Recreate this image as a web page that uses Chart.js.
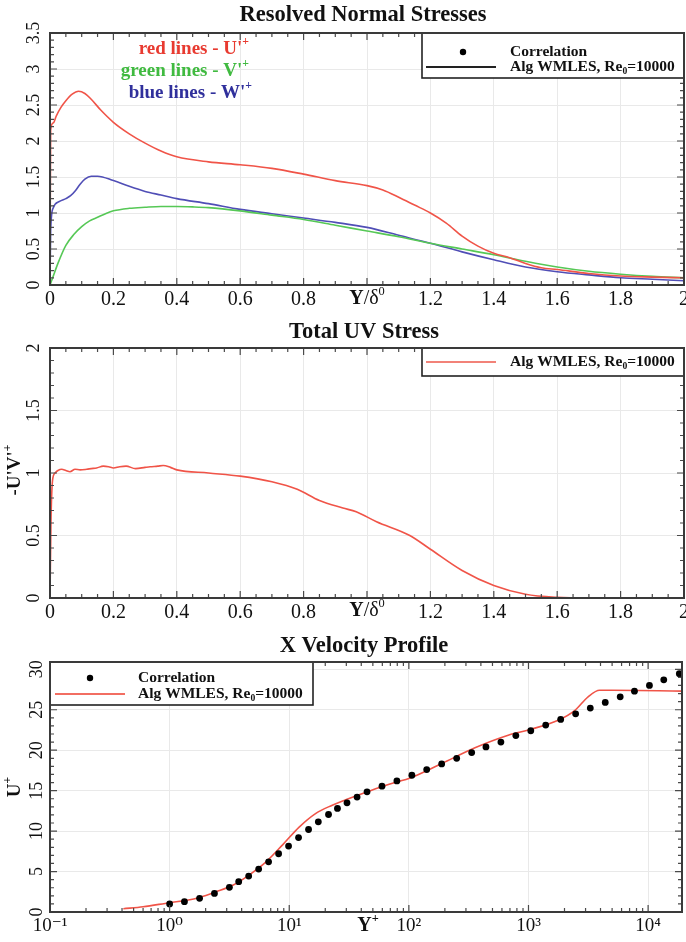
<!DOCTYPE html>
<html>
<head>
<meta charset="utf-8">
<script src="https://cdn.jsdelivr.net/npm/chart.js@4.4.1/dist/chart.umd.min.js"></script>
<style>
  body { margin: 0; background: #fff; }
  .wrap { position: relative; width: 686px; height: 942px; overflow: hidden; }
  canvas { position: absolute; left: 0; }
</style>
</head>
<body>
<div class="wrap">
  <canvas id="normal" width="686" height="310" style="top:0"></canvas>
  <canvas id="shear" width="686" height="315" style="top:310px"></canvas>
  <canvas id="velocity" width="686" height="317" style="top:625px"></canvas>
</div>
<script>
// resolved normal stresses against Y/delta0
const uRmsX = [0, 0.002, 0.01, 0.02, 0.035, 0.05, 0.07, 0.09, 0.11, 0.13, 0.16, 0.2, 0.25, 0.3, 0.35, 0.4, 0.5, 0.6, 0.7, 0.8, 0.9, 1.0, 1.05, 1.1, 1.15, 1.2, 1.25, 1.3, 1.35, 1.4, 1.45, 1.5, 1.55, 1.6, 1.7, 1.8, 1.9, 2.0];
const uRms = [0, 2.15, 2.25, 2.35, 2.47, 2.56, 2.65, 2.69, 2.66, 2.58, 2.43, 2.26, 2.1, 1.97, 1.86, 1.78, 1.71, 1.67, 1.62, 1.54, 1.45, 1.38, 1.32, 1.22, 1.11, 1.0, 0.86, 0.68, 0.54, 0.44, 0.38, 0.3, 0.24, 0.215, 0.16, 0.125, 0.11, 0.1];
const vRmsX = [0, 0.01, 0.025, 0.05, 0.075, 0.1, 0.125, 0.15, 0.175, 0.2, 0.25, 0.3, 0.35, 0.4, 0.45, 0.5, 0.6, 0.7, 0.8, 0.9, 1.0, 1.1, 1.2, 1.3, 1.4, 1.5, 1.6, 1.7, 1.8, 1.9, 2.0];
const vRms = [0, 0.12, 0.3, 0.55, 0.7, 0.81, 0.89, 0.94, 0.99, 1.03, 1.065, 1.08, 1.09, 1.09, 1.085, 1.075, 1.03, 0.97, 0.91, 0.83, 0.75, 0.67, 0.58, 0.5, 0.42, 0.33, 0.25, 0.19, 0.15, 0.12, 0.1];
const wRmsX = [0, 0.002, 0.01, 0.03, 0.05, 0.065, 0.08, 0.095, 0.11, 0.13, 0.15, 0.2, 0.25, 0.3, 0.35, 0.4, 0.5, 0.6, 0.7, 0.8, 0.9, 1.0, 1.1, 1.2, 1.3, 1.4, 1.5, 1.6, 1.7, 1.8, 1.9, 2.0];
const wRms = [0, 0.75, 1.07, 1.16, 1.2, 1.24, 1.31, 1.4, 1.47, 1.51, 1.51, 1.45, 1.37, 1.3, 1.25, 1.2, 1.13, 1.05, 0.99, 0.93, 0.87, 0.8, 0.69, 0.58, 0.46, 0.35, 0.25, 0.185, 0.14, 0.1, 0.08, 0.06];

// total uv stress
const uvX = [0, 0.003, 0.008, 0.016, 0.025, 0.037, 0.05, 0.063, 0.079, 0.095, 0.116, 0.13, 0.147, 0.168, 0.185, 0.2, 0.22, 0.24, 0.27, 0.3, 0.316, 0.34, 0.357, 0.38, 0.4, 0.5, 0.6, 0.7, 0.78, 0.85, 0.924, 0.966, 1.03, 1.135, 1.2, 1.3, 1.4, 1.5, 1.6, 1.7, 1.8];
const uvStress = [0, 0.6, 0.94, 1.0, 1.02, 1.03, 1.02, 1.01, 1.03, 1.025, 1.03, 1.035, 1.04, 1.055, 1.05, 1.04, 1.05, 1.055, 1.035, 1.045, 1.05, 1.055, 1.06, 1.045, 1.025, 1.0, 0.975, 0.93, 0.87, 0.78, 0.72, 0.69, 0.61, 0.5, 0.39, 0.22, 0.1, 0.03, 0.005, 0, 0];

// x velocity profile in wall units
const lesYPlus = [0.41, 0.6, 1, 1.4, 1.78, 2.45, 3.37, 4.64, 6.4, 8.8, 12.1, 16.7, 22.9, 27.6, 30, 45, 60, 80, 100, 188, 357, 677, 1000, 1770, 2430, 3150, 3930, 5000, 19200];
const lesUPlus = [0.4, 0.65, 1.15, 1.45, 1.8, 2.5, 3.3, 4.6, 6.2, 8.3, 10.5, 12.2, 13.2, 13.7, 13.9, 14.85, 15.5, 16.1, 16.5, 18.35, 20.3, 21.85, 22.5, 23.7, 24.9, 26.6, 27.4, 27.4, 27.3];
const corrYPlus = [1.0, 1.33, 1.78, 2.37, 3.16, 3.78, 4.58, 5.55, 6.72, 8.15, 9.87, 11.96, 14.5, 17.5, 21.3, 25.3, 30.4, 36.9, 44.7, 59.6, 79.4, 106, 141, 188, 251, 335, 441, 588, 784, 1045, 1393, 1858, 2478, 3286, 4382, 5843, 7690, 10260, 13520, 18240];
const corrUPlus = [1.0, 1.27, 1.69, 2.3, 3.05, 3.75, 4.44, 5.3, 6.2, 7.2, 8.15, 9.2, 10.2, 11.15, 12.05, 12.8, 13.5, 14.2, 14.85, 15.55, 16.2, 16.9, 17.6, 18.3, 19.0, 19.7, 20.4, 21.0, 21.8, 22.4, 23.1, 23.8, 24.5, 25.2, 25.9, 26.6, 27.3, 28.0, 28.7, 29.45];
const decadeLabels = ['10⁻¹', '10⁰', '10¹', '10²', '10³', '10⁴'];

const SERIF = '"Liberation Serif", "DejaVu Serif", serif';
const RED = 'rgb(240, 84, 72)';
const GREEN = 'rgb(86, 200, 86)';
const BLUE = 'rgb(80, 78, 182)';
const GRID = '#e9e9e9';

const pts = (xs, ys) => xs.map((x, i) => ({x, y: ys[i]}));
const steps = (from, to, step) => {
    const out = [];
    for (let v = from; v <= to + 1e-9; v += step) out.push(+v.toFixed(4));
    return out;
};
const logMinor = [];
for (let e = -1; e <= 4; e++) for (let k = 1; k < 10; k++) logMinor.push(k * Math.pow(10, e));
const isDecade = v => Math.abs(Math.log10(v) - Math.round(Math.log10(v))) < 1e-6;

// text with optional superscript / subscript pieces: [text, weight, 'sup'|'sub']
function drawRich(ctx, parts, x, y, size, align) {
    const segs = parts.map(([t, w = 'bold', k = '']) => {
        const s = k ? size * 0.62 : size;
        const font = `${w} ${s}px ${SERIF}`;
        ctx.font = font;
        return {t, font, w: ctx.measureText(t).width, dy: k === 'sup' ? -size * 0.36 : k === 'sub' ? size * 0.3 : 0};
    });
    const total = segs.reduce((a, s) => a + s.w, 0);
    let cx = align === 'right' ? x - total : align === 'center' ? x - total / 2 : x;
    ctx.textAlign = 'left';
    ctx.textBaseline = 'middle';
    segs.forEach(s => { ctx.font = s.font; ctx.fillText(s.t, cx, y + s.dy); cx += s.w; });
}

// frame, inward ticks, title, legend box and labels drawn over each panel
function frame(cfg) {
    return {
        id: 'frame',
        afterDraw(chart) {
            const {ctx, chartArea: a} = chart;
            const sx = chart.scales.x, sy = chart.scales.y;
            ctx.save();
            ctx.strokeStyle = '#4a4a4a';
            ctx.lineWidth = 1.2;
            ctx.beginPath();
            const tickX = (vals, len) => vals.forEach(v => {
                const p = sx.getPixelForValue(v);
                if (p < a.left + 1 || p > a.right - 1) return;
                ctx.moveTo(p, a.bottom); ctx.lineTo(p, a.bottom - len);
                ctx.moveTo(p, a.top); ctx.lineTo(p, a.top + len);
            });
            const tickY = (vals, len) => vals.forEach(v => {
                const p = sy.getPixelForValue(v);
                if (p < a.top + 1 || p > a.bottom - 1) return;
                ctx.moveTo(a.left, p); ctx.lineTo(a.left + len, p);
                ctx.moveTo(a.right, p); ctx.lineTo(a.right - len, p);
            });
            tickX(cfg.xMajor, 7); tickX(cfg.xMinor, 4);
            tickY(cfg.yMajor, 7); tickY(cfg.yMinor, 4);
            ctx.stroke();

            ctx.fillStyle = '#111';
            drawRich(ctx, [[cfg.title]], cfg.titleX, cfg.titleY, 22.5, 'center');

            (cfg.notes || []).forEach(n => {
                ctx.fillStyle = n.color || '#111';
                if (n.rotate) {
                    ctx.save();
                    ctx.translate(n.x, n.y);
                    ctx.rotate(-Math.PI / 2);
                    drawRich(ctx, n.parts, 0, 0, n.size, 'center');
                    ctx.restore();
                } else {
                    const x = n.xValue !== undefined ? sx.getPixelForValue(n.xValue) : n.x;
                    drawRich(ctx, n.parts, x, n.y, n.size, n.align || 'left');
                }
            });

            const lg = cfg.legend;
            if (lg) {
                const [l, t, r, b] = lg.box;
                ctx.fillStyle = '#fff';
                ctx.fillRect(l, t, r - l, b - t);
                lg.rows.forEach(row => {
                    if (row.mark === 'dot') {
                        ctx.fillStyle = row.color;
                        ctx.beginPath();
                        ctx.arc(row.at, row.y, 3.2, 0, Math.PI * 2);
                        ctx.fill();
                    } else {
                        ctx.strokeStyle = row.color;
                        ctx.lineWidth = 1.8;
                        ctx.beginPath();
                        ctx.moveTo(row.at[0], row.y); ctx.lineTo(row.at[1], row.y);
                        ctx.stroke();
                    }
                    ctx.fillStyle = '#111';
                    drawRich(ctx, row.parts, lg.textX, row.y, 15.5, 'left');
                });
                ctx.strokeStyle = '#222';
                ctx.lineWidth = 1.6;
                ctx.strokeRect(l, t, r - l, b - t);
            }

            ctx.strokeStyle = '#3a3a3a';
            ctx.lineWidth = 2;
            ctx.strokeRect(a.left, a.top, a.width, a.height);
            ctx.restore();
        }
    };
}

const wmlesLabel = [['Alg WMLES, Re'], ['0', 'bold', 'sub'], ['=10000']];
const yDeltaLabel = [['Y', 'bold'], ['/δ', 'normal'], ['0', 'normal', 'sup']];

function xLinear(height) {
    return {
        type: 'linear', min: 0, max: 2,
        ticks: {
            stepSize: 0.2, autoSkip: false, maxRotation: 0, padding: 3, color: '#111',
            font: {family: SERIF, size: 20},
            callback: v => Math.abs(v - 1) < 1e-9 ? '' : String(+v.toFixed(1))
        },
        grid: {color: GRID, drawTicks: false},
        border: {display: false},
        afterFit: s => { s.height = height; s.paddingLeft = 0; s.paddingRight = 0; }
    };
}

function yLinear(max, step) {
    return {
        type: 'linear', min: 0, max,
        ticks: {
            stepSize: step, includeBounds: false, minRotation: 90, maxRotation: 90,
            crossAlign: 'center', padding: 4, color: '#111',
            font: {family: SERIF, size: 18},
            callback: v => String(+v.toFixed(2))
        },
        grid: {color: GRID, drawTicks: false},
        border: {display: false},
        afterFit: s => { s.width = 50; s.paddingTop = 0; s.paddingBottom = 0; }
    };
}

const common = {
    responsive: false,
    animation: false,
    events: [],
    plugins: {legend: {display: false}, tooltip: {enabled: false}},
    elements: {point: {radius: 0}}
};

new Chart(document.getElementById('normal'), {
    type: 'scatter',
    data: {
        datasets: [
            {label: "U'+", data: pts(uRmsX, uRms), showLine: true, borderColor: RED, borderWidth: 1.6, cubicInterpolationMode: 'monotone'},
            {label: "V'+", data: pts(vRmsX, vRms), showLine: true, borderColor: GREEN, borderWidth: 1.6, cubicInterpolationMode: 'monotone'},
            {label: "W'+", data: pts(wRmsX, wRms), showLine: true, borderColor: BLUE, borderWidth: 1.6, cubicInterpolationMode: 'monotone'}
        ]
    },
    options: Object.assign({}, common, {
        layout: {padding: {top: 33, right: 2, left: 0, bottom: 0}},
        scales: {x: xLinear(25), y: yLinear(3.5, 0.5)}
    }),
    plugins: [frame({
        title: 'Resolved Normal Stresses', titleX: 363, titleY: 15,
        xMajor: steps(0, 2, 0.2), xMinor: steps(0, 2, 0.05),
        yMajor: steps(0, 3.5, 0.5), yMinor: steps(0, 3.5, 0.1),
        notes: [
            {parts: [["red lines - U'"], ['+', 'bold', 'sup']], x: 249, y: 49, size: 19, align: 'right', color: 'rgb(232, 58, 48)'},
            {parts: [["green lines - V'"], ['+', 'bold', 'sup']], x: 249, y: 71, size: 19, align: 'right', color: 'rgb(64, 186, 64)'},
            {parts: [["blue lines - W'"], ['+', 'bold', 'sup']], x: 252, y: 93, size: 19, align: 'right', color: 'rgb(48, 48, 156)'},
            {parts: yDeltaLabel, xValue: 1, y: 299, size: 20, align: 'center'}
        ],
        legend: {
            box: [422, 33, 684, 78], textX: 510,
            rows: [
                {mark: 'dot', color: '#000', at: 463, y: 52, parts: [['Correlation']]},
                {mark: 'line', color: '#222', at: [426, 496], y: 67, parts: wmlesLabel}
            ]
        }
    })]
});

new Chart(document.getElementById('shear'), {
    type: 'scatter',
    data: {
        datasets: [
            {label: 'Alg WMLES, Re0=10000', data: pts(uvX, uvStress), showLine: true, borderColor: RED, borderWidth: 1.6, cubicInterpolationMode: 'monotone'}
        ]
    },
    options: Object.assign({}, common, {
        layout: {padding: {top: 38, right: 2, left: 0, bottom: 0}},
        scales: {x: xLinear(27), y: yLinear(2, 0.5)}
    }),
    plugins: [frame({
        title: 'Total UV Stress', titleX: 364, titleY: 22,
        xMajor: steps(0, 2, 0.2), xMinor: steps(0, 2, 0.05),
        yMajor: steps(0, 2, 0.5), yMinor: steps(0, 2, 0.1),
        notes: [
            {parts: [["-U'V'"], ['+', 'bold', 'sup']], x: 15, y: 160, size: 19, rotate: true},
            {parts: yDeltaLabel, xValue: 1, y: 301, size: 20, align: 'center'}
        ],
        legend: {
            box: [422, 38, 684, 66], textX: 510,
            rows: [
                {mark: 'line', color: 'rgb(242, 130, 120)', at: [426, 496], y: 52, parts: wmlesLabel}
            ]
        }
    })]
});

new Chart(document.getElementById('velocity'), {
    type: 'scatter',
    data: {
        datasets: [
            {label: 'Correlation', data: pts(corrYPlus, corrUPlus), pointRadius: 3.4, pointBackgroundColor: '#000', pointBorderWidth: 0},
            {label: 'Alg WMLES, Re0=10000', data: pts(lesYPlus, lesUPlus), showLine: true, borderColor: RED, borderWidth: 1.6, cubicInterpolationMode: 'monotone'}
        ]
    },
    options: Object.assign({}, common, {
        layout: {padding: {top: 37, right: 2, left: 0, bottom: 0}},
        scales: {
            x: {
                type: 'logarithmic', min: 0.1, max: 19200,
                ticks: {
                    autoSkip: false, maxRotation: 0, padding: 3, color: '#111',
                    font: {family: SERIF, size: 19},
                    callback: v => isDecade(v) ? decadeLabels[Math.round(Math.log10(v)) + 1] : ''
                },
                grid: {color: c => c.tick && isDecade(c.tick.value) ? GRID : 'rgba(0,0,0,0)', drawTicks: false},
                border: {display: false},
                afterFit: s => { s.height = 30; s.paddingLeft = 0; s.paddingRight = 0; }
            },
            y: yLinear(30.9, 5)
        }
    }),
    plugins: [frame({
        title: 'X Velocity Profile', titleX: 364, titleY: 21,
        xMajor: [0.1, 1, 10, 100, 1000, 10000], xMinor: logMinor,
        yMajor: steps(0, 30, 5), yMinor: steps(0, 30, 1),
        notes: [
            {parts: [['U'], ['+', 'bold', 'sup']], x: 15, y: 162, size: 19, rotate: true},
            {parts: [['Y'], ['+', 'bold', 'sup']], x: 368, y: 301, size: 20, align: 'center'}
        ],
        legend: {
            box: [50, 37, 313, 80], textX: 138,
            rows: [
                {mark: 'dot', color: '#000', at: 90, y: 53, parts: [['Correlation']]},
                {mark: 'line', color: 'rgb(242, 110, 98)', at: [55, 125], y: 69, parts: wmlesLabel}
            ]
        }
    })]
});
</script>
</body>
</html>
